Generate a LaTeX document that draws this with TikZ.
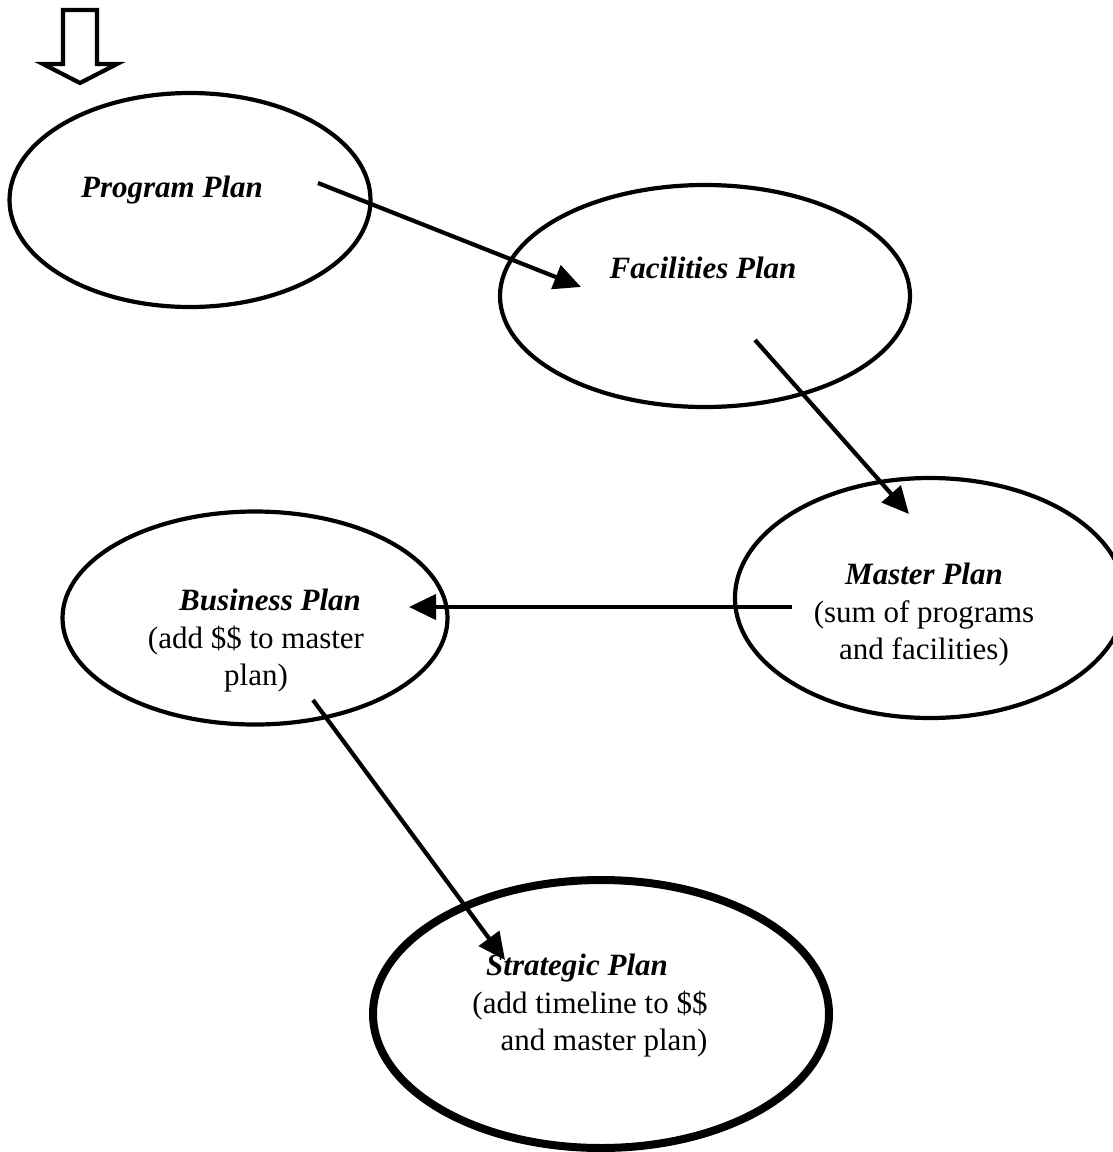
\documentclass[tikz,border=0pt]{standalone}
\usepackage{fontspec}
\setmainfont{Liberation Serif}
\usetikzlibrary{arrows.meta,shapes.geometric}
\begin{document}
\begin{tikzpicture}[x=1pt,y=-1pt,
  plan/.style={draw,ellipse,line width=4.2pt,inner sep=0pt},
  plantext/.style={font=\fontsize{31}{37.5}\selectfont,align=center,inner sep=0pt},
  title/.style={plantext,font=\fontsize{31}{37.5}\selectfont\bfseries\itshape},
  flow/.style={line width=4.2pt,-{Triangle[length=27pt,width=25pt]}}]
\useasboundingbox (0,0) rectangle (1113,1152);

% entry arrow
\draw[line width=4.2pt,line join=miter]
  (63,10) -- (97,10) -- (97,64) -- (117,64) -- (80,83) -- (43,64) -- (63,64) -- cycle;

% the five plans
\node[plan,minimum width=361pt,minimum height=214pt] (prog) at (190,200) {};
\node[plan,minimum width=410pt,minimum height=222pt] (fac) at (705,296) {};
\node[plan,minimum width=390pt,minimum height=240pt] (mast) at (930,598) {};
\node[plan,minimum width=385pt,minimum height=213pt] (bus) at (255,618) {};
\node[plan,line width=8pt,minimum width=456pt,minimum height=268pt] (strat) at (601,1014) {};

% their texts
\node[title] (progt) at (172,190) {Program Plan};
\node[title] (fact) at (703,268) {Facilities Plan};
\node[plantext] (mastt) at (924,615) {\textbf{\textit{Master Plan}}\\(sum of programs\\and facilities)};
\node[plantext] (bust) at (256,641) {\hspace*{28pt}\textbf{\textit{Business Plan}}\\(add \$\$ to master\\plan)};
\node[plantext] (stratt) at (590,1006) {\textbf{\textit{Strategic Plan}}\hspace*{26pt}\\(add timeline to \$\$\\\hspace*{28pt}and master plan)};

% arrow ends
\coordinate (p1) at (318,183);
\coordinate (f1) at (581,287);
\coordinate (f2) at (755,340);
\coordinate (m1) at (909,514);
\coordinate (m2) at (792,607);
\coordinate (b1) at (409,607);
\coordinate (b2) at (313,700);
\coordinate (s1) at (505,960);

\draw[flow] (p1) -- (f1);
\draw[flow] (f2) -- (m1);
\draw[flow] (m2) -- (b1);
\draw[flow] (b2) -- (s1);
\end{tikzpicture}
\end{document}
